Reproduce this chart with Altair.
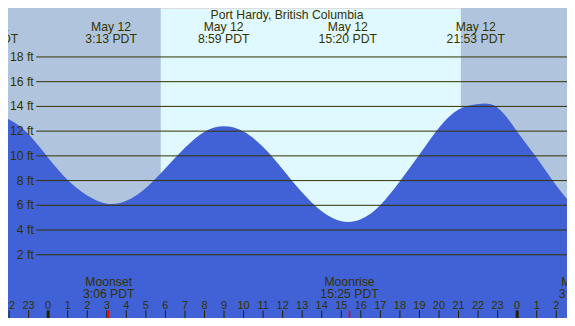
import altair as alt
import pandas as pd

# ---- data ----
# tide curve: hourly readings, hours since midnight May 12 (PDT), height in ft
curve_hours = [-3, -2, -1, 0, 1, 2, 3, 4, 5, 6, 7, 8, 9, 10, 11, 12, 13, 14, 15,
               16, 17, 18, 19, 20, 21, 22, 23, 24, 25, 26, 27]
curve_ft = [13.4, 12.95, 11.75, 9.85, 8.05, 6.8, 6.13, 6.36, 7.41, 9.0, 10.65, 11.95,
            12.4, 11.97, 10.71, 8.92, 7.03, 5.51, 4.71, 4.87, 6.03, 7.95, 10.1, 12.27,
            13.75, 14.2, 13.9, 11.96, 9.85, 7.6, 5.7]

grid_ft = [2, 4, 6, 8, 10, 12, 14, 16, 18]
grid_labels = ["2 ft", "4 ft", "6 ft", "8 ft", "10 ft", "12 ft", "14 ft", "16 ft", "18 ft"]

tide_hours = [-3.02, 3.22, 8.98, 15.33, 21.88]
tide_dates = ["May 11", "May 12", "May 12", "May 12", "May 12"]
tide_times = ["20:59 PDT", "3:13 PDT", "8:59 PDT", "15:20 PDT", "21:53 PDT"]

night_start = [-2.1, 21.12]
night_end = [5.76, 26.6]

moon_hours = [3.1, 15.42, 27.45]
moon_names = ["Moonset", "Moonrise", "Moonset"]
moon_times = ["3:06 PDT", "15:25 PDT", "3:27 PDT"]

tick_hours = list(range(-2, 27))
tick_labels = [str(h % 24) for h in tick_hours]

title_text = "Port Hardy, British Columbia"

# ---- layout ----
W, H = 559, 310
sx, sy = W / 575, H / 326
FONT = "Liberation Sans"
FS = 12.2
TXT = "#333300"

xs = alt.Scale(domain=[-2.055, 26.55], nice=False, zero=False)
ys = alt.Scale(domain=[-3.115, 21.96], nice=False, zero=False)

curve_df = pd.DataFrame({"h": curve_hours, "ft": curve_ft})
grid_df = pd.DataFrame({"ft": grid_ft, "label": grid_labels})
tide_df = pd.DataFrame({"h": tide_hours, "date": tide_dates, "time": tide_times})
night_df = pd.DataFrame({"s": night_start, "e": night_end})
moon_df = pd.DataFrame({"h": moon_hours, "name": moon_names, "time": moon_times})
tick_df = pd.DataFrame({"h": tick_hours, "label": tick_labels,
                        "major": [h % 24 == 0 for h in tick_hours]})

X = lambda f: alt.X(f, type="quantitative", scale=xs, axis=None)
Y = lambda f: alt.Y(f, type="quantitative", scale=ys, axis=None)

night = alt.Chart(night_df).mark_rect(color="#b0c4de").encode(
    x=X("s"), x2="e", y=alt.value(0), y2=alt.value(H))

area = alt.Chart(curve_df).mark_area(color="#4161d6", interpolate="natural", clip=True).encode(
    x=X("h"), y=Y("ft"), y2=alt.datum(-3.3))

grid = alt.Chart(grid_df).mark_rule(color="#333300", strokeWidth=1).encode(
    x=alt.value(29 * sx), x2=alt.value(W), y=Y("ft"))

grid_text = alt.Chart(grid_df).mark_text(
    align="right", baseline="middle", font=FONT, fontSize=FS, color=TXT).encode(
    x=alt.value(26.5 * sx), y=Y("ft"), text="label:N")

title = alt.Chart(pd.DataFrame({"t": [title_text]})).mark_text(
    align="center", baseline="alphabetic", font=FONT, fontSize=FS, color=TXT).encode(
    x=alt.value(287 * sx), y=alt.value(12 * sy), text="t:N")

tide_date = alt.Chart(tide_df).mark_text(
    align="center", baseline="alphabetic", font=FONT, fontSize=FS, color=TXT).encode(
    x=X("h"), y=alt.value(24.5 * sy), text="date:N")
tide_time = alt.Chart(tide_df).mark_text(
    align="center", baseline="alphabetic", font=FONT, fontSize=FS, color=TXT).encode(
    x=X("h"), y=alt.value(37 * sy), text="time:N")

moon_name = alt.Chart(moon_df).mark_text(
    align="center", baseline="alphabetic", font=FONT, fontSize=FS, color=TXT).encode(
    x=X("h"), y=alt.value(292 * sy), text="name:N")
moon_time = alt.Chart(moon_df).mark_text(
    align="center", baseline="alphabetic", font=FONT, fontSize=FS, color=TXT).encode(
    x=X("h"), y=alt.value(304.5 * sy), text="time:N")

hour_text = alt.Chart(tick_df).mark_text(
    align="center", baseline="alphabetic", font=FONT, fontSize=11, color=TXT).encode(
    x=X("h"), y=alt.value(316.5 * sy), text="label:N")

ticks = alt.Chart(tick_df).mark_rule(color="#222200").encode(
    x=X("h"), y=alt.value(318 * sy), y2=alt.value(H),
    strokeWidth=alt.condition("datum.major", alt.value(3), alt.value(1)))

moon_ticks = alt.Chart(moon_df).mark_rule(color="#ff0000", strokeWidth=1.5).encode(
    x=X("h"), y=alt.value(318 * sy), y2=alt.value(H))

chart = alt.layer(
    night, area, grid, grid_text, title, tide_date, tide_time,
    moon_name, moon_time, hour_text, ticks, moon_ticks
).properties(
    width=W, height=H, padding=0,
    autosize=alt.AutoSizeParams(type="none"),
).configure_view(stroke=None, fill="#e0f8ff").configure(background="#e0f8ff")

chart.save("out.html", embed_options={"renderer": "svg", "actions": False})
